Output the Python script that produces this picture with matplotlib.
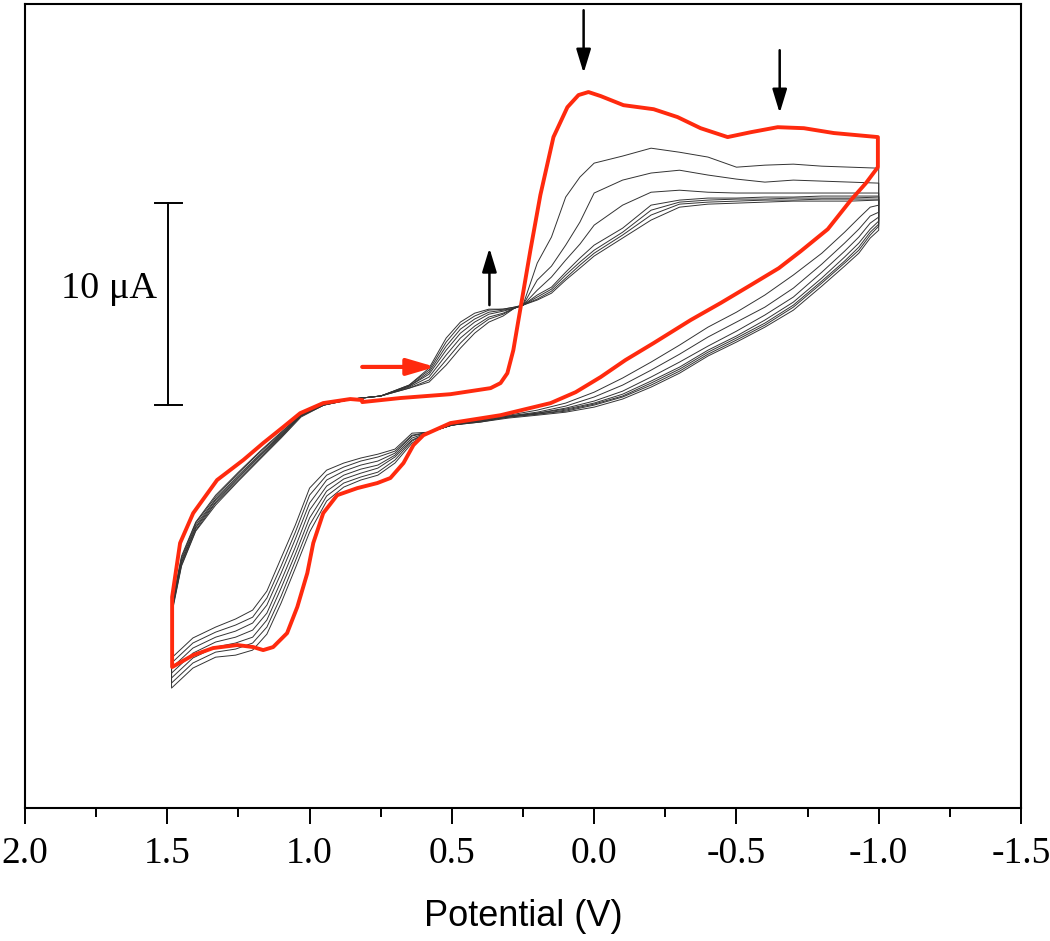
import matplotlib
matplotlib.use("Agg")
import matplotlib.pyplot as plt
from matplotlib.ticker import MultipleLocator, FormatStrFormatter

plt.rcParams['axes.unicode_minus'] = False

# first scan (red), potential in V and current in uA, in scan order
first_v = [0.815, 0.681, 0.505, 0.364, 0.329, 0.305, 0.284, 0.266, 0.248, 0.224,
           0.189, 0.143, 0.094, 0.055, 0.020, -0.023, -0.103, -0.209, -0.293, -0.374,
           -0.469, -0.550, -0.645, -0.737, -0.842, -0.997, -0.997, -0.955, -0.902, -0.821,
           -0.726, -0.649, -0.550, -0.444, -0.339, -0.209, -0.110, -0.023, 0.065, 0.153,
           0.329, 0.505, 0.600, 0.635, 0.670, 0.716, 0.762, 0.832, 0.903, 0.952,
           0.987, 1.008, 1.043, 1.079, 1.128, 1.163, 1.198, 1.254, 1.339, 1.409,
           1.483, 1.483, 1.455, 1.409, 1.325, 1.233, 1.163, 1.093, 1.033, 0.952,
           0.857, 0.815]
first_i = [0.15, 0.35, 0.54, 0.84, 1.09, 1.58, 2.72, 4.21, 5.69, 7.67,
           10.40, 13.27, 14.75, 15.35, 15.50, 15.30, 14.85, 14.65, 14.26, 13.71,
           13.27, 13.51, 13.76, 13.71, 13.47, 13.27, 11.78, 10.99, 10.15, 8.71,
           7.62, 6.78, 5.94, 5.05, 4.21, 3.07, 2.23, 1.39, 0.64, 0.10,
           -0.50, -0.89, -1.49, -1.98, -2.87, -3.61, -3.86, -4.11, -4.46, -5.35,
           -6.83, -8.32, -9.99, -11.29, -11.98, -12.13, -11.98, -11.88, -12.03, -12.38,
           -12.97, -9.50, -6.83, -5.35, -3.71, -2.72, -1.88, -1.09, -0.40, 0.10,
           0.30, 0.25]

# following cycles (black): 1.485 V -> -1.0 V, then back
upper_v = [1.485, 1.45, 1.40, 1.33, 1.25, 1.17, 1.10, 1.03, 0.95, 0.85,
           0.75, 0.65, 0.58, 0.52, 0.47, 0.42, 0.37, 0.32, 0.28, 0.25,
           0.20, 0.15, 0.10, 0.05, 0.0, -0.10, -0.20, -0.30, -0.40, -0.50,
           -0.60, -0.70, -0.80, -0.90, -1.0]
lower_v = [-1.0, -0.97, -0.93, -0.88, -0.80, -0.70, -0.60, -0.50, -0.40, -0.30,
           -0.20, -0.10, 0.0, 0.10, 0.20, 0.30, 0.40, 0.50, 0.58, 0.64,
           0.70, 0.76, 0.82, 0.88, 0.94, 1.00, 1.05, 1.10, 1.15, 1.20,
           1.26, 1.33, 1.41, 1.485]

cycle_upper = [
    [-9.95, -7.48, -5.79, -4.46, -3.32, -2.23, -1.34, -0.45, 0.05, 0.30,
     0.45, 0.84, 1.14, 1.98, 2.82, 3.56, 4.11, 4.41, 4.80, 4.95,
     7.03, 8.32, 10.30, 11.29, 11.98, 12.33, 12.72, 12.52, 12.28, 11.78,
     11.88, 11.93, 11.83, 11.78, 11.73],
    [-10.00, -7.57, -5.84, -4.55, -3.37, -2.28, -1.39, -0.45, 0.05, 0.30,
     0.45, 0.84, 1.24, 2.23, 3.07, 3.76, 4.26, 4.50, 4.80, 4.95,
     6.19, 6.88, 7.92, 9.06, 10.50, 11.14, 11.49, 11.63, 11.39, 11.19,
     11.04, 11.14, 11.09, 11.04, 10.99],
    [-10.10, -7.67, -5.94, -4.65, -3.47, -2.38, -1.44, -0.50, 0.05, 0.30,
     0.45, 0.89, 1.39, 2.48, 3.32, 3.91, 4.36, 4.55, 4.80, 4.95,
     5.69, 6.34, 7.18, 7.97, 8.91, 9.90, 10.54, 10.64, 10.54, 10.50,
     10.50, 10.50, 10.50, 10.50, 10.50],
    [-10.15, -7.77, -6.04, -4.70, -3.56, -2.43, -1.49, -0.50, 0.00, 0.30,
     0.45, 0.94, 1.53, 2.72, 3.56, 4.11, 4.50, 4.65, 4.80, 4.95,
     5.45, 5.84, 6.58, 7.28, 7.92, 8.76, 9.90, 10.15, 10.25, 10.25,
     10.30, 10.30, 10.35, 10.35, 10.35],
    [-10.25, -7.82, -6.09, -4.80, -3.61, -2.48, -1.53, -0.54, 0.00, 0.30,
     0.45, 0.94, 1.63, 2.92, 3.76, 4.26, 4.60, 4.70, 4.80, 4.95,
     5.35, 5.74, 6.44, 7.08, 7.67, 8.56, 9.65, 10.05, 10.15, 10.20,
     10.20, 10.25, 10.25, 10.25, 10.30],
    [-10.30, -7.92, -6.19, -4.85, -3.71, -2.57, -1.58, -0.54, 0.00, 0.30,
     0.45, 0.99, 1.73, 3.12, 3.96, 4.41, 4.70, 4.75, 4.85, 4.95,
     5.25, 5.64, 6.29, 6.93, 7.52, 8.42, 9.41, 9.95, 10.05, 10.10,
     10.15, 10.15, 10.20, 10.20, 10.20],
    [-10.40, -7.97, -6.24, -4.95, -3.76, -2.62, -1.63, -0.59, 0.00, 0.30,
     0.45, 0.99, 1.83, 3.32, 4.11, 4.55, 4.75, 4.75, 4.85, 4.95,
     5.20, 5.54, 6.19, 6.78, 7.38, 8.27, 9.16, 9.80, 9.95, 10.00,
     10.05, 10.10, 10.10, 10.10, 10.15],
]

cycle_lower = [
    [9.90, 9.80, 9.26, 8.56, 7.52, 6.44, 5.45, 4.60, 3.86, 2.97,
     2.13, 1.34, 0.64, 0.10, -0.25, -0.50, -0.74, -0.99, -1.34, -1.88,
     -2.87, -3.47, -3.71, -4.06, -4.75, -6.29, -8.07, -9.80, -11.34, -12.13,
     -12.38, -12.48, -13.02, -14.01],
    [9.55, 9.36, 8.71, 8.02, 6.98, 5.79, 4.85, 4.11, 3.37, 2.52,
     1.73, 0.99, 0.40, -0.05, -0.35, -0.54, -0.74, -0.99, -1.34, -1.78,
     -2.72, -3.32, -3.56, -3.86, -4.50, -5.94, -7.72, -9.46, -10.99, -11.78,
     -12.08, -12.23, -12.77, -13.76],
    [9.31, 9.01, 8.32, 7.62, 6.58, 5.35, 4.46, 3.66, 2.92, 2.13,
     1.39, 0.69, 0.20, -0.15, -0.40, -0.54, -0.79, -0.99, -1.34, -1.73,
     -2.57, -3.12, -3.37, -3.66, -4.26, -5.59, -7.38, -9.06, -10.64, -11.49,
     -11.78, -11.98, -12.52, -13.51],
    [9.11, 8.71, 8.02, 7.33, 6.29, 5.10, 4.21, 3.42, 2.72, 1.88,
     1.19, 0.54, 0.10, -0.20, -0.40, -0.59, -0.79, -0.99, -1.34, -1.63,
     -2.48, -2.97, -3.17, -3.47, -4.01, -5.20, -7.03, -8.71, -10.30, -11.14,
     -11.49, -11.73, -12.28, -13.27],
    [8.96, 8.56, 7.82, 7.13, 6.14, 4.95, 4.06, 3.32, 2.62, 1.78,
     1.09, 0.45, 0.05, -0.25, -0.45, -0.59, -0.79, -0.99, -1.34, -1.53,
     -2.38, -2.77, -2.97, -3.27, -3.71, -4.85, -6.63, -8.32, -9.90, -10.79,
     -11.19, -11.49, -12.03, -13.02],
    [8.86, 8.42, 7.67, 7.03, 6.04, 4.85, 3.96, 3.22, 2.52, 1.68,
     0.99, 0.40, 0.00, -0.30, -0.45, -0.59, -0.84, -0.99, -1.34, -1.49,
     -2.28, -2.57, -2.77, -3.07, -3.47, -4.46, -6.29, -7.97, -9.55, -10.50,
     -10.89, -11.24, -11.78, -12.77],
    [8.66, 8.27, 7.52, 6.88, 5.89, 4.70, 3.86, 3.12, 2.43, 1.58,
     0.89, 0.30, -0.10, -0.35, -0.50, -0.64, -0.84, -0.99, -1.34, -1.39,
     -2.18, -2.43, -2.62, -2.87, -3.22, -4.11, -5.94, -7.57, -9.21, -10.15,
     -10.59, -10.99, -11.53, -12.52],
]

scale_ua = 10
xticks = [2.0, 1.5, 1.0, 0.5, 0.0, -0.5, -1.0, -1.5]

red = '#ff2a0e'

fig = plt.figure(figsize=(10.5, 9.41), dpi=100)
ax = fig.add_axes([0.0238, 0.1413, 0.9486, 0.8549])

for up, lo in zip(cycle_upper, cycle_lower):
    v = upper_v + lower_v + [upper_v[0]]
    cur = up + lo + [up[0]]
    ax.plot(v, cur, color='#333333', lw=0.7, zorder=2)

ax.plot(first_v, first_i, color=red, lw=2.8, zorder=3,
        solid_joinstyle='round', solid_capstyle='round')

# scale bar
ax.plot([1.497, 1.497], [0, scale_ua], color='k', lw=1.4)
ax.plot([1.543, 1.450], [0, 0], color='k', lw=1.4)
ax.plot([1.543, 1.450], [scale_ua, scale_ua], color='k', lw=1.4)
ax.text(1.536, 5.3, '%d μA' % scale_ua, ha='right', va='baseline',
        fontsize=27.5, family='Liberation Serif')

# arrows
black_head = '-|>,head_length=0.72,head_width=0.22'
ax.annotate('', xy=(0.558, 1.89), xytext=(0.815, 1.89),
            arrowprops=dict(arrowstyle='-|>,head_length=0.85,head_width=0.25',
                            mutation_scale=20, color=red, lw=3,
                            shrinkA=0, shrinkB=0))
ax.annotate('', xy=(0.368, 7.77), xytext=(0.368, 4.95),
            arrowprops=dict(arrowstyle=black_head, mutation_scale=20,
                            color='k', lw=1.8, shrinkA=0, shrinkB=0))
ax.annotate('', xy=(0.037, 16.44), xytext=(0.037, 19.55),
            arrowprops=dict(arrowstyle=black_head, mutation_scale=20,
                            color='k', lw=1.8, shrinkA=0, shrinkB=0))
ax.annotate('', xy=(-0.652, 14.46), xytext=(-0.652, 17.57),
            arrowprops=dict(arrowstyle=black_head, mutation_scale=20,
                            color='k', lw=1.8, shrinkA=0, shrinkB=0))

ax.set_xlim(2.0, -1.5)
ax.set_ylim(-19.95, 19.88)
ax.set_xticks(xticks)
ax.xaxis.set_minor_locator(MultipleLocator(0.25))
ax.xaxis.set_major_formatter(FormatStrFormatter('%.1f'))
ax.set_yticks([])
ax.tick_params(axis='x', which='major', direction='out', length=11.5, width=1.4,
               pad=9, labelsize=27)
ax.tick_params(axis='x', which='minor', direction='out', length=6.5, width=1.4)
for lab in ax.get_xticklabels():
    lab.set_family('Liberation Serif')
for sp in ax.spines.values():
    sp.set_linewidth(1.5)

ax.set_xlabel('Potential (V)', fontsize=26, family='Liberation Sans', labelpad=20)

fig.savefig('out.png', dpi=100)
